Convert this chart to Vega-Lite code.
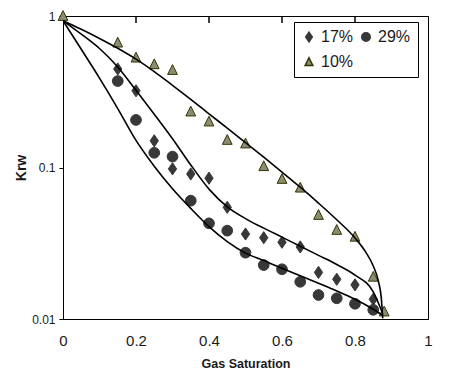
{
  "$schema": "https://vega.github.io/schema/vega-lite/v6.json",
  "width": 365,
  "height": 303,
  "autosize": "none",
  "padding": {"left": 63, "top": 16, "right": 24, "bottom": 57},
  "background": "white",
  "config": {
    "view": {"stroke": "black", "strokeWidth": 1},
    "font": "Liberation Sans",
    "axis": {"labelFont": "Liberation Sans", "titleFont": "Liberation Sans", "labelColor": "#1a1a1a", "titleColor": "#1a1a1a", "domainColor": "black", "tickColor": "black", "grid": false},
    "legend": {"labelFont": "Liberation Sans", "labelFontSize": 16, "labelColor": "#1a1a1a", "orient": "none", "legendX": 231, "legendY": 6, "columns": 2, "direction": "horizontal", "strokeColor": "black", "fillColor": "white", "padding": 7, "symbolSize": 60, "labelOffset": 4, "columnPadding": 4, "rowPadding": 9}
  },
  "datasets": {
    "curves": [
      {"curve": "A", "sg": 0, "krw": 0.93},
      {"curve": "A", "sg": 0.05, "krw": 0.817},
      {"curve": "A", "sg": 0.1, "krw": 0.711},
      {"curve": "A", "sg": 0.15, "krw": 0.612},
      {"curve": "A", "sg": 0.2, "krw": 0.519},
      {"curve": "A", "sg": 0.25, "krw": 0.43},
      {"curve": "A", "sg": 0.3, "krw": 0.349},
      {"curve": "A", "sg": 0.35, "krw": 0.282},
      {"curve": "A", "sg": 0.4, "krw": 0.226},
      {"curve": "A", "sg": 0.45, "krw": 0.182},
      {"curve": "A", "sg": 0.5, "krw": 0.146},
      {"curve": "A", "sg": 0.55, "krw": 0.117},
      {"curve": "A", "sg": 0.6, "krw": 0.0933},
      {"curve": "A", "sg": 0.65, "krw": 0.0741},
      {"curve": "A", "sg": 0.7, "krw": 0.0582},
      {"curve": "A", "sg": 0.75, "krw": 0.0452},
      {"curve": "A", "sg": 0.8, "krw": 0.0343},
      {"curve": "A", "sg": 0.83, "krw": 0.0275},
      {"curve": "A", "sg": 0.85, "krw": 0.0224},
      {"curve": "A", "sg": 0.865, "krw": 0.0174},
      {"curve": "A", "sg": 0.872, "krw": 0.0138},
      {"curve": "A", "sg": 0.876, "krw": 0.0101},
      {"curve": "B", "sg": 0, "krw": 0.93},
      {"curve": "B", "sg": 0.05, "krw": 0.759},
      {"curve": "B", "sg": 0.1, "krw": 0.61},
      {"curve": "B", "sg": 0.15, "krw": 0.461},
      {"curve": "B", "sg": 0.2, "krw": 0.323},
      {"curve": "B", "sg": 0.25, "krw": 0.225},
      {"curve": "B", "sg": 0.3, "krw": 0.155},
      {"curve": "B", "sg": 0.35, "krw": 0.104},
      {"curve": "B", "sg": 0.4, "krw": 0.072},
      {"curve": "B", "sg": 0.45, "krw": 0.055},
      {"curve": "B", "sg": 0.5, "krw": 0.046},
      {"curve": "B", "sg": 0.55, "krw": 0.0398},
      {"curve": "B", "sg": 0.6, "krw": 0.0347},
      {"curve": "B", "sg": 0.65, "krw": 0.0302},
      {"curve": "B", "sg": 0.7, "krw": 0.0263},
      {"curve": "B", "sg": 0.75, "krw": 0.0229},
      {"curve": "B", "sg": 0.8, "krw": 0.0195},
      {"curve": "B", "sg": 0.85, "krw": 0.0151},
      {"curve": "B", "sg": 0.875, "krw": 0.011},
      {"curve": "C", "sg": 0, "krw": 0.93},
      {"curve": "C", "sg": 0.05, "krw": 0.603},
      {"curve": "C", "sg": 0.1, "krw": 0.389},
      {"curve": "C", "sg": 0.15, "krw": 0.245},
      {"curve": "C", "sg": 0.2, "krw": 0.151},
      {"curve": "C", "sg": 0.25, "krw": 0.102},
      {"curve": "C", "sg": 0.3, "krw": 0.0724},
      {"curve": "C", "sg": 0.35, "krw": 0.0537},
      {"curve": "C", "sg": 0.4, "krw": 0.0407},
      {"curve": "C", "sg": 0.45, "krw": 0.0324},
      {"curve": "C", "sg": 0.5, "krw": 0.0272},
      {"curve": "C", "sg": 0.55, "krw": 0.0243},
      {"curve": "C", "sg": 0.6, "krw": 0.0216},
      {"curve": "C", "sg": 0.65, "krw": 0.0193},
      {"curve": "C", "sg": 0.7, "krw": 0.0172},
      {"curve": "C", "sg": 0.75, "krw": 0.0153},
      {"curve": "C", "sg": 0.8, "krw": 0.0135},
      {"curve": "C", "sg": 0.85, "krw": 0.0116},
      {"curve": "C", "sg": 0.875, "krw": 0.0106}
    ],
    "points": [
      {"series": "17%", "sg": 0.15, "krw": 0.447},
      {"series": "17%", "sg": 0.2, "krw": 0.321},
      {"series": "17%", "sg": 0.25, "krw": 0.15},
      {"series": "17%", "sg": 0.3, "krw": 0.098},
      {"series": "17%", "sg": 0.35, "krw": 0.0906},
      {"series": "17%", "sg": 0.4, "krw": 0.085},
      {"series": "17%", "sg": 0.45, "krw": 0.0546},
      {"series": "17%", "sg": 0.5, "krw": 0.0364},
      {"series": "17%", "sg": 0.55, "krw": 0.0344},
      {"series": "17%", "sg": 0.6, "krw": 0.0321},
      {"series": "17%", "sg": 0.65, "krw": 0.0299},
      {"series": "17%", "sg": 0.7, "krw": 0.0203},
      {"series": "17%", "sg": 0.75, "krw": 0.0183},
      {"series": "17%", "sg": 0.8, "krw": 0.0168},
      {"series": "17%", "sg": 0.85, "krw": 0.0135},
      {"series": "29%", "sg": 0.15, "krw": 0.372},
      {"series": "29%", "sg": 0.2, "krw": 0.206},
      {"series": "29%", "sg": 0.25, "krw": 0.125},
      {"series": "29%", "sg": 0.3, "krw": 0.118},
      {"series": "29%", "sg": 0.35, "krw": 0.0604},
      {"series": "29%", "sg": 0.4, "krw": 0.0428},
      {"series": "29%", "sg": 0.45, "krw": 0.0383},
      {"series": "29%", "sg": 0.5, "krw": 0.0274},
      {"series": "29%", "sg": 0.55, "krw": 0.0227},
      {"series": "29%", "sg": 0.6, "krw": 0.0213},
      {"series": "29%", "sg": 0.65, "krw": 0.0176},
      {"series": "29%", "sg": 0.7, "krw": 0.0144},
      {"series": "29%", "sg": 0.75, "krw": 0.0137},
      {"series": "29%", "sg": 0.8, "krw": 0.0126},
      {"series": "29%", "sg": 0.85, "krw": 0.0115},
      {"series": "10%", "sg": 0, "krw": 1},
      {"series": "10%", "sg": 0.15, "krw": 0.667},
      {"series": "10%", "sg": 0.2, "krw": 0.531},
      {"series": "10%", "sg": 0.25, "krw": 0.48},
      {"series": "10%", "sg": 0.3, "krw": 0.44},
      {"series": "10%", "sg": 0.35, "krw": 0.234},
      {"series": "10%", "sg": 0.4, "krw": 0.201},
      {"series": "10%", "sg": 0.45, "krw": 0.152},
      {"series": "10%", "sg": 0.5, "krw": 0.144},
      {"series": "10%", "sg": 0.55, "krw": 0.102},
      {"series": "10%", "sg": 0.6, "krw": 0.084},
      {"series": "10%", "sg": 0.65, "krw": 0.0736},
      {"series": "10%", "sg": 0.7, "krw": 0.0486},
      {"series": "10%", "sg": 0.75, "krw": 0.0387},
      {"series": "10%", "sg": 0.8, "krw": 0.0349},
      {"series": "10%", "sg": 0.85, "krw": 0.019},
      {"series": "10%", "sg": 0.88, "krw": 0.0112}
    ]
  },
  "layer": [
    {
      "data": {"name": "points"},
      "mark": {"type": "point", "filled": true, "opacity": 1, "strokeWidth": 1, "size": 95},
      "encoding": {
        "x": {"field": "sg", "type": "quantitative"},
        "y": {"field": "krw", "type": "quantitative", "scale": {"type": "log", "domain": [0.01, 1], "nice": false},
          "axis": {"title": "Krw", "titleFontSize": 14, "titleFontWeight": "bold", "titlePadding": 3, "labelFontSize": 12, "values": [0.01, 0.1, 1], "tickSize": 4, "labelPadding": 4, "format": "~g", "labelFlush": false}},
        "shape": {"field": "series", "type": "nominal", "scale": {"domain": ["17%", "29%", "10%"], "range": ["M0,-1.25L0.85,0L0,1.25L-0.85,0Z", "M1.1,0A1.1,1.1,0,1,1,-1.1,0A1.1,1.1,0,1,1,1.1,0Z", "M0,-1.1L1,0.9L-1,0.9Z"]}, "title": null},
        "fill": {"field": "series", "type": "nominal", "scale": {"domain": ["17%", "29%", "10%"], "range": ["#383838", "#383838", "#8c8c72"]}, "title": null},
        "stroke": {"field": "series", "type": "nominal", "scale": {"domain": ["17%", "29%", "10%"], "range": ["#383838", "#383838", "#333300"]}, "title": null}
      }
    },
    {
      "data": {"name": "curves"},
      "mark": {"type": "line", "color": "black", "strokeWidth": 1.6, "interpolate": "monotone", "clip": true},
      "encoding": {
        "x": {"field": "sg", "type": "quantitative", "scale": {"domain": [0, 1], "nice": false},
          "axis": {"orient": "bottom", "title": "Gas Saturation", "titleFontSize": 12.5, "titleFontWeight": "bold", "titlePadding": 9, "labelFontSize": 15, "values": [0, 0.2, 0.4, 0.6, 0.8, 1], "format": "~g", "ticks": false, "labelPadding": 14, "domain": true, "labelFlush": false}},
        "y": {"field": "krw", "type": "quantitative"},
        "detail": {"field": "curve"}
      }
    },
    {
      "data": {"values": [
        {"sg": 0.2, "krw": 1, "krw2": 0.9},
        {"sg": 0.4, "krw": 1, "krw2": 0.9},
        {"sg": 0.6, "krw": 1, "krw2": 0.9},
        {"sg": 0.8, "krw": 1, "krw2": 0.9}
      ]},
      "mark": {"type": "rule", "stroke": "black", "strokeWidth": 1.5, "opacity": 1},
      "encoding": {
        "x": {"field": "sg", "type": "quantitative"},
        "y": {"field": "krw", "type": "quantitative"},
        "y2": {"field": "krw2"}
      }
    }
  ]
}
